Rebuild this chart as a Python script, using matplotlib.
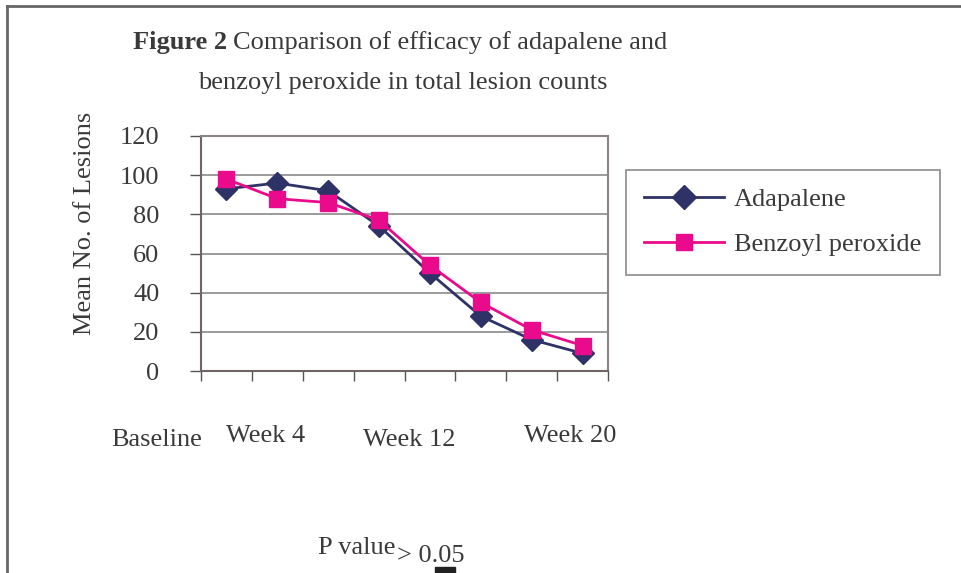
import matplotlib
matplotlib.use('Agg')
import matplotlib.pyplot as plt
from matplotlib.patches import Rectangle
from matplotlib.lines import Line2D

# Data
visits = ['Baseline', 'Wk 2', 'Week 4', 'Wk 8', 'Week 12', 'Wk 16', 'Week 20', 'Wk 24']
adapalene = [93, 96, 92, 74, 50, 28, 16, 9]
benzoyl = [98, 88, 86, 77, 54, 35, 21, 13]
yticks = [0, 20, 40, 60, 80, 100, 120]
shown_labels = ['Baseline', 'Week 4', 'Week 12', 'Week 20']

plt.rcParams['font.family'] = ['Liberation Serif', 'DejaVu Serif']
txt_col = '#3a3a3a'
navy = '#2f3267'
pink = '#ea0a8c'
fs = 19

fig = plt.figure(figsize=(9.61, 5.73), dpi=100)
ax = fig.add_axes([201 / 961, 1 - 371 / 573, 407 / 961, 235 / 573])

x = list(range(len(visits)))
ax.plot(x, adapalene, color=navy, lw=2, marker='D', ms=11, mfc=navy, mec=navy, zorder=3,
        label='Adapalene')
ax.plot(x, benzoyl, color=pink, lw=2, marker='s', ms=11, mfc=pink, mec=pink, zorder=4,
        label='Benzoyl peroxide')

ax.set_xlim(-0.5, len(visits) - 0.5)
ax.set_ylim(0, 120)
ax.set_yticks(yticks)
ax.set_yticklabels([str(v) for v in yticks], fontsize=fs, color=txt_col)
# category boundary ticks, Excel style
ax.set_xticks([i - 0.5 for i in range(len(visits) + 1)])
ax.set_xticklabels([])
ax.tick_params(axis='x', length=7, width=1, color='#555555', direction='out')
ax.tick_params(axis='y', length=8, width=1, color='#555555', direction='out', pad=22)
ax.grid(axis='y', color='#8a8a8a', lw=1.2)
ax.set_axisbelow(True)
for side in ['top', 'right']:
    ax.spines[side].set_color('#8c8484')
    ax.spines[side].set_linewidth(1.5)
for side in ['left', 'bottom']:
    ax.spines[side].set_color('#6e6464')
    ax.spines[side].set_linewidth(1.5)

# manual category labels (staggered like the original text boxes)
label_pos = [(157, 440), (266, 436), (409, 440), (570, 436)]
for lab, (px, py) in zip(shown_labels, label_pos):
    fig.text(px / 961, 1 - py / 573, lab, fontsize=fs, color=txt_col, ha='center', va='center')

fig.text(85 / 961, 1 - 223 / 573, 'Mean No. of Lesions', rotation=90, fontsize=fs,
         color=txt_col, ha='center', va='center')

# title
fig.text(133 / 961, 1 - 43 / 573, 'Figure 2', fontsize=fs, fontweight='bold', color=txt_col,
         ha='left', va='center')
fig.text(233 / 961, 1 - 43 / 573, 'Comparison of efficacy of adapalene and', fontsize=fs,
         color=txt_col, ha='left', va='center')
fig.text(403 / 961, 1 - 83 / 573, 'benzoyl peroxide in total lesion counts', fontsize=fs,
         color=txt_col, ha='center', va='center')

# legend
handles = [Line2D([], [], color=navy, lw=2, marker='D', ms=12, mfc=navy, mec=navy),
           Line2D([], [], color=pink, lw=2, marker='s', ms=12, mfc=pink, mec=pink)]
leg = fig.legend(handles, ['Adapalene', 'Benzoyl peroxide'], loc='center',
                 bbox_to_anchor=(783 / 961, 1 - 222 / 573), fontsize=fs, frameon=True,
                 fancybox=False, edgecolor='#6e6e6e', handlelength=3.0, labelspacing=0.8,
                 borderpad=0.7, handletextpad=0.4, labelcolor=txt_col)
leg.get_frame().set_linewidth(1.2)

# p value note
fig.text(318 / 961, 1 - 548 / 573, 'P value', fontsize=fs, color=txt_col, ha='left', va='center')
fig.text(397 / 961, 1 - 556 / 573, '> 0.05', fontsize=fs, color=txt_col, ha='left', va='center')
fig.patches.append(Rectangle((435 / 961, 0), 20 / 961, 6 / 573, transform=fig.transFigure,
                             color='#222222', figure=fig))

# outer frame (left and top edges visible)
fig.add_artist(Line2D([7 / 961, 7 / 961], [0, 1 - 6 / 573], transform=fig.transFigure,
                      color='#666666', lw=2))
fig.add_artist(Line2D([7 / 961, 1], [1 - 6 / 573, 1 - 6 / 573], transform=fig.transFigure,
                      color='#666666', lw=2))

fig.savefig('out.png', dpi=100)
